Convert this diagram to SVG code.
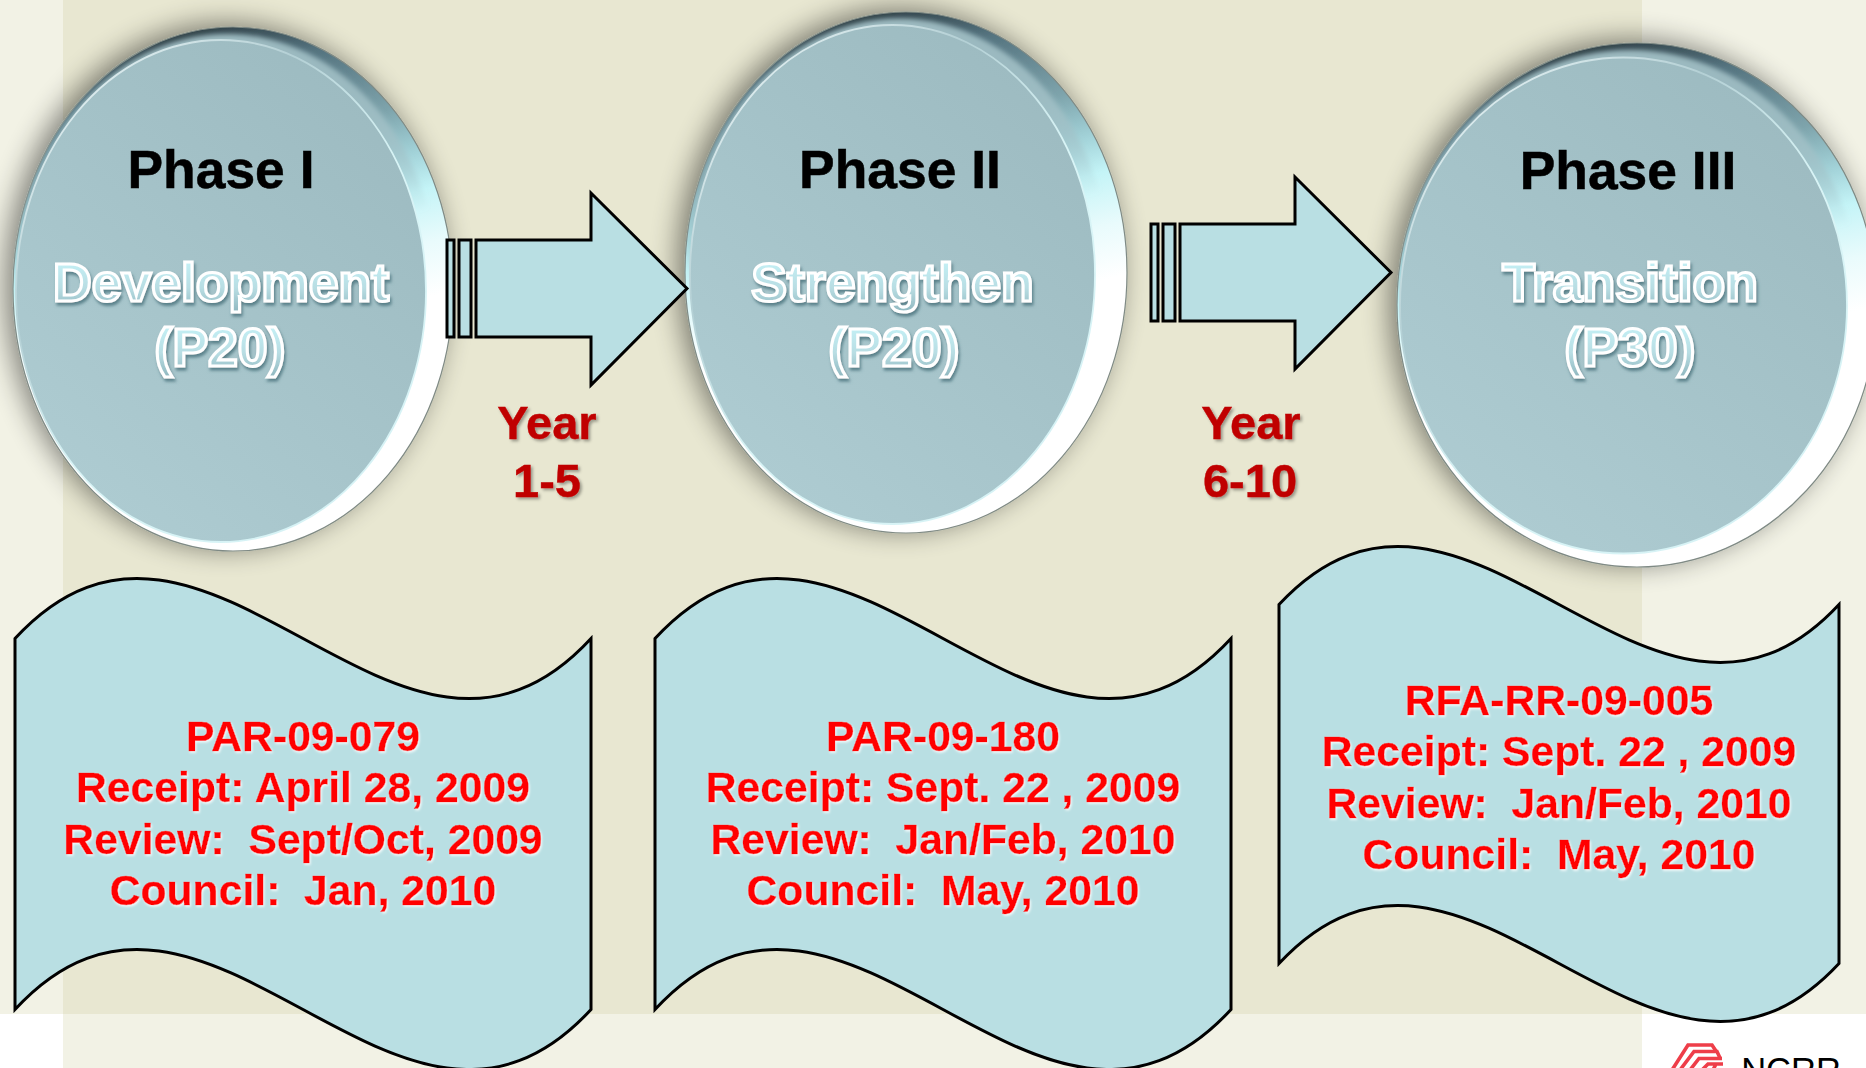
<svg xmlns="http://www.w3.org/2000/svg" width="1866" height="1068" viewBox="0 0 1866 1068">
<defs>
<linearGradient id="rim" x1="0.4" y1="0" x2="0.6" y2="1">
<stop offset="0" stop-color="#2f3f45"/><stop offset="0.1" stop-color="#557480"/><stop offset="0.24" stop-color="#7ea4ac"/><stop offset="0.33" stop-color="#a3d3d9"/><stop offset="0.4" stop-color="#c4f4f7"/><stop offset="0.5" stop-color="#e9fbfc"/><stop offset="0.6" stop-color="#ffffff"/><stop offset="1" stop-color="#ffffff"/>
</linearGradient>
<linearGradient id="bevel" x1="0.4" y1="0" x2="0.6" y2="1">
<stop offset="0" stop-color="#a3c1c7" stop-opacity="0.95"/><stop offset="0.28" stop-color="#a3c1c7" stop-opacity="0.8"/><stop offset="0.44" stop-color="#a3c1c7" stop-opacity="0"/>
</linearGradient>
<linearGradient id="face" x1="0.85" y1="0.1" x2="0.25" y2="0.95">
<stop offset="0" stop-color="#9dbbc1"/><stop offset="1" stop-color="#adcbd1"/>
</linearGradient>
<linearGradient id="ring" x1="0.1" y1="0" x2="0.9" y2="1">
<stop offset="0" stop-color="#eef7f8"/><stop offset="0.3" stop-color="#b4d0d5"/><stop offset="0.55" stop-color="#d8f4f6"/><stop offset="1" stop-color="#d6f2f5"/>
</linearGradient>
<linearGradient id="tfill" x1="0" y1="0" x2="0" y2="1">
<stop offset="0" stop-color="#c8f6fb"/><stop offset="0.6" stop-color="#b8dde3"/><stop offset="1" stop-color="#8fb7bf"/>
</linearGradient>
<filter id="halo" x="-15%" y="-15%" width="130%" height="130%">
<feGaussianBlur in="SourceAlpha" stdDeviation="14"/>
<feOffset dx="-7" dy="-3"/>
<feComponentTransfer><feFuncA type="linear" slope="0.48"/></feComponentTransfer>
<feMerge><feMergeNode/><feMergeNode in="SourceGraphic"/></feMerge>
</filter>
<filter id="soft" x="-5%" y="-5%" width="110%" height="110%"><feGaussianBlur stdDeviation="2.5"/></filter>
<filter id="sd" x="-10%" y="-20%" width="120%" height="150%"><feDropShadow dx="1.5" dy="3" stdDeviation="1.5" flood-color="#3f6a75" flood-opacity="0.75"/></filter>
<filter id="yr" x="-10%" y="-20%" width="120%" height="150%"><feDropShadow dx="2" dy="2" stdDeviation="1.4" flood-color="#000" flood-opacity="0.35"/></filter>
<filter id="glow" x="-5%" y="-15%" width="110%" height="140%"><feDropShadow dx="1" dy="1.5" stdDeviation="1" flood-color="#fff" flood-opacity="0.85"/></filter>
<path id="wave" d="M15 638.500C207 430.500 399 846.500 591 638.500V1009.500C399 1217.500 207 801.500 15 1009.500Z"/>
<g id="arrow">
<rect x="447" y="240" width="7" height="97"/>
<rect x="459" y="240" width="12" height="97"/>
<path d="M476 240H591V193L687 288.500L591 385V337H476Z"/>
</g>
</defs>
<style>
text{font-family:"Liberation Sans",Arial,sans-serif;font-weight:700;text-anchor:middle;white-space:pre}
.ph{font-size:53.4px;fill:#000;stroke:#000;stroke-width:.5px}
.ol{font-size:53.5px;fill:url(#tfill);stroke:#fff;stroke-width:3.1px;filter:url(#sd)}
.yr{font-size:47px;fill:#c00000;stroke:#c00000;stroke-width:.4px;filter:url(#yr)}
.rd{font-size:42.7px;fill:#f00;stroke:#f00;stroke-width:.4px;filter:url(#glow)}
.rim{fill:url(#rim);stroke:#7f8a85;stroke-width:1.2}
.bev{fill:url(#bevel);filter:url(#soft)}
.face{fill:url(#face);stroke:url(#ring);stroke-width:1.8}
.shp{fill:#b9dfe3;stroke:#000;stroke-width:3;stroke-linejoin:miter}
.logo{fill:none;stroke:#ee3e49;stroke-width:3.6}
</style>
<g id="background">
<rect width="1866" height="1068" fill="#ffffff"/>
<rect width="1866" height="1014" fill="#f2f2e5"/>
<rect x="63" width="1579" height="1068" fill="#f2f2e5"/>
<rect x="63" width="1579" height="1014" fill="#e8e7d1"/>
</g>
<g id="phase1">
<ellipse class="rim" cx="233" cy="289" rx="220" ry="262" filter="url(#halo)"/>
<ellipse class="bev" cx="227" cy="290" rx="212" ry="256"/>
<ellipse class="face" cx="221" cy="291" rx="205" ry="251"/>
<text class="ph" x="221" y="188">Phase I</text>
<text class="ol" x="221" y="301">Development</text>
<text class="ol" x="220" y="366">(P20)</text>
</g>
<g id="phase2">
<ellipse class="rim" cx="906" cy="272.500" rx="221" ry="260.500" filter="url(#halo)"/>
<ellipse class="bev" cx="899" cy="273.500" rx="211.500" ry="255"/>
<ellipse class="face" cx="892.500" cy="274.500" rx="202.500" ry="249.500"/>
<text class="ph" x="900" y="188">Phase II</text>
<text class="ol" x="892.500" y="301">Strengthen</text>
<text class="ol" x="894" y="366">(P20)</text>
</g>
<g id="phase3">
<ellipse class="rim" cx="1637" cy="305" rx="240" ry="262" filter="url(#halo)"/>
<ellipse class="bev" cx="1630" cy="305" rx="231" ry="255"/>
<ellipse class="face" cx="1623.500" cy="305.500" rx="223.500" ry="248"/>
<text class="ph" x="1628" y="189">Phase III</text>
<text class="ol" x="1630" y="301">Transition</text>
<text class="ol" x="1630" y="366">(P30)</text>
</g>
<g id="connectors" class="shp">
<use href="#arrow"/>
<use href="#arrow" transform="translate(704 -16)"/>
</g>
<g id="year1"><text class="yr" x="547" y="439">Year</text><text class="yr" x="547" y="497">1-5</text></g>
<g id="year2"><text class="yr" x="1251" y="439">Year</text><text class="yr" x="1250" y="497">6-10</text></g>
<g id="doc1">
<use href="#wave" class="shp"/>
<text class="rd" x="303" y="751">PAR-09-079</text>
<text class="rd" x="303" y="802">Receipt: April 28, 2009</text>
<text class="rd" x="303" y="854">Review:  Sept/Oct, 2009</text>
<text class="rd" x="303" y="905">Council:  Jan, 2010</text>
</g>
<g id="doc2">
<use href="#wave" class="shp" transform="translate(640 0)"/>
<text class="rd" x="943" y="751">PAR-09-180</text>
<text class="rd" x="943" y="802">Receipt: Sept. 22 , 2009</text>
<text class="rd" x="943" y="854">Review:  Jan/Feb, 2010</text>
<text class="rd" x="943" y="905">Council:  May, 2010</text>
</g>
<g id="doc3">
<path class="shp" d="M1279 604.500C1466 403.500 1652 805.500 1839 604.500V963.500C1652 1164.500 1466 762.500 1279 963.500Z"/>
<text class="rd" x="1559" y="715">RFA-RR-09-005</text>
<text class="rd" x="1559" y="766">Receipt: Sept. 22 , 2009</text>
<text class="rd" x="1559" y="818">Review:  Jan/Feb, 2010</text>
<text class="rd" x="1559" y="869">Council:  May, 2010</text>
</g>
<g id="logo">
<path class="logo" d="M1672 1070L1688 1045H1712L1716 1051"/>
<path class="logo" d="M1680 1070L1694 1051.500H1717L1720 1058"/>
<path class="logo" d="M1690 1070L1699 1058.500H1722"/>
<path class="logo" d="M1702 1070L1708 1064H1723M1713 1070L1716 1064"/>
<text x="1791" y="1082" style="font-size:34.500px;font-weight:400;fill:#000">NCRR</text>
</g>
</svg>
